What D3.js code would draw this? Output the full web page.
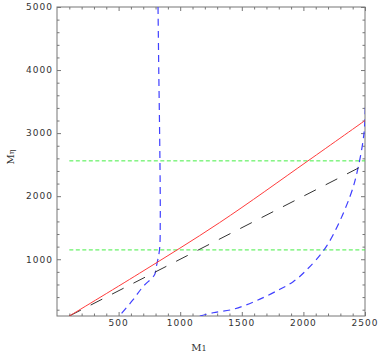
<!DOCTYPE html>
<html>
<head>
<meta charset="utf-8">
<script src="https://cdn.jsdelivr.net/npm/d3@7"></script>
<style>
  body { margin: 0; background: #fff; }
  #chart-container { width: 382px; height: 356px; }
  .tick text { font-family: "DejaVu Sans", sans-serif; font-size: 9px; letter-spacing: 1px; fill: #333; }
</style>
</head>
<body>
<div id="chart-container"></div>
<script>
// values (M1 on x, M_eta on y)
const xTicks = [500, 1000, 1500, 2000, 2500];
const yTicks = [1000, 2000, 3000, 4000, 5000];
const redLine = [[100, 100], [670, 778], [1320, 1581], [2037, 2560], [2500, 3200]];
const blackLine = [[100, 100], [2500, 2500]];
const greenLevels = [1148, 2560];
const greenStartX = 100;
const blueLeft = [[820, 5000], [826, 4000], [833, 3000], [838, 2000], [838, 1600], [832, 1150],
  [806, 883], [792, 754], [698, 565], [616, 354], [508, 105]];
const blueRight = [[1159, 100], [1267, 152], [1429, 206], [1619, 343], [1809, 524], [1917, 644],
  [2020, 819], [2191, 1216], [2378, 1994], [2446, 2470], [2492, 3000], [2503, 3420]];

const width = 382;
const height = 356;
const margin = { top: 7, right: 17, bottom: 40, left: 57 };

const xScale = d3.scaleLinear()
  .domain([0, 2500])
  .range([margin.left, width - margin.right]);

const yScale = d3.scaleLinear()
  .domain([100, 5000])
  .range([height - margin.bottom, margin.top]);

const svg = d3.select("#chart-container")
  .append("svg")
  .attr("width", width)
  .attr("height", height);

svg.append("defs").append("clipPath")
  .attr("id", "plot-clip")
  .append("rect")
  .attr("x", margin.left)
  .attr("y", margin.top)
  .attr("width", width - margin.left - margin.right)
  .attr("height", height - margin.top - margin.bottom);

// minor ticks
const xMinor = d3.range(100, 2500, 100).filter(v => v % 500 !== 0);
const yMinor = d3.range(200, 5000, 200).filter(v => v % 1000 !== 0);

function tickAxis(axisFn, scale, values, size, withLabels) {
  return axisFn(scale)
    .tickValues(values)
    .tickSizeInner(size)
    .tickSizeOuter(0)
    .tickPadding(withLabels ? 4 : 0)
    .tickFormat(withLabels ? d3.format("d") : "");
}

const bottomY = height - margin.bottom;
const rightX = width - margin.right;

const axes = [
  { fn: d3.axisBottom, s: xScale, t: `translate(0,${bottomY})` },
  { fn: d3.axisTop, s: xScale, t: `translate(0,${margin.top})` },
  { fn: d3.axisLeft, s: yScale, t: `translate(${margin.left},0)` },
  { fn: d3.axisRight, s: yScale, t: `translate(${rightX},0)` }
];

axes.forEach((a, i) => {
  const isX = i < 2;
  const labels = i === 0 || i === 2;
  const g1 = svg.append("g").attr("transform", a.t)
    .call(tickAxis(a.fn, a.s, isX ? xMinor : yMinor, -2.5, false));
  const g2 = svg.append("g").attr("transform", a.t)
    .call(tickAxis(a.fn, a.s, isX ? xTicks : yTicks, -4, false));
  [g1, g2].forEach(g => {
    g.select(".domain").remove();
    g.selectAll("line").attr("stroke", "#777");
  });
});

// tick labels (placed outside the frame)
svg.append("g").selectAll("text")
  .data(xTicks)
  .enter()
  .append("text")
  .attr("class", "tick")
  .attr("x", d => xScale(d))
  .attr("y", bottomY + 10)
  .attr("text-anchor", "middle")
  .style("font-family", "'DejaVu Sans', sans-serif")
  .style("font-size", "9px")
  .style("letter-spacing", "1px")
  .attr("fill", "#333")
  .text(d => d);

svg.append("g").selectAll("text")
  .data(yTicks)
  .enter()
  .append("text")
  .attr("x", margin.left - 4)
  .attr("y", d => yScale(d) + 3.3)
  .attr("text-anchor", "end")
  .style("font-family", "'DejaVu Sans', sans-serif")
  .style("font-size", "9px")
  .style("letter-spacing", "1px")
  .attr("fill", "#333")
  .text(d => d);

// frame
svg.append("rect")
  .attr("x", margin.left)
  .attr("y", margin.top)
  .attr("width", rightX - margin.left)
  .attr("height", bottomY - margin.top)
  .attr("fill", "none")
  .attr("stroke", "#777")
  .attr("stroke-width", 1);

const plot = svg.append("g").attr("clip-path", "url(#plot-clip)");

const lineSmooth = d3.line()
  .x(d => xScale(d[0]))
  .y(d => yScale(d[1]))
  .curve(d3.curveCatmullRom);

// green dashed horizontal lines
plot.selectAll(".green")
  .data(greenLevels)
  .enter()
  .append("line")
  .attr("x1", xScale(greenStartX))
  .attr("x2", xScale(2500))
  .attr("y1", d => yScale(d))
  .attr("y2", d => yScale(d))
  .attr("stroke", "#44ee44")
  .attr("stroke-width", 1)
  .attr("stroke-dasharray", "4,2.5");

// blue dashed curves
[blueLeft, blueRight].forEach(pts => {
  plot.append("path")
    .attr("d", lineSmooth(pts))
    .attr("fill", "none")
    .attr("stroke", "#4040ff")
    .attr("stroke-width", 1.2)
    .attr("stroke-dasharray", "7,5");
});

// black long-dash line
plot.append("path")
  .attr("d", lineSmooth(blackLine))
  .attr("fill", "none")
  .attr("stroke", "#333")
  .attr("stroke-width", 1)
  .attr("stroke-dasharray", "13,11");

// red solid line
plot.append("path")
  .attr("d", lineSmooth(redLine))
  .attr("fill", "none")
  .attr("stroke", "#ff3c3c")
  .attr("stroke-width", 1);

// axis titles
const xTitle = svg.append("text")
  .attr("x", 199)
  .attr("y", 351)
  .attr("text-anchor", "middle")
  .style("font-family", "'DejaVu Serif', 'Liberation Serif', serif")
  .style("font-size", "10px")
  .attr("fill", "#333");
xTitle.append("tspan").text("M");
xTitle.append("tspan").attr("font-size", "8px").text("1");

const yTitle = svg.append("text")
  .attr("transform", `translate(14,157) rotate(-90)`)
  .attr("text-anchor", "middle")
  .style("font-family", "'DejaVu Serif', 'Liberation Serif', serif")
  .style("font-size", "10px")
  .attr("fill", "#333");
yTitle.append("tspan").text("M");
yTitle.append("tspan").attr("font-size", "8px").text("η");
</script>
</body>
</html>
